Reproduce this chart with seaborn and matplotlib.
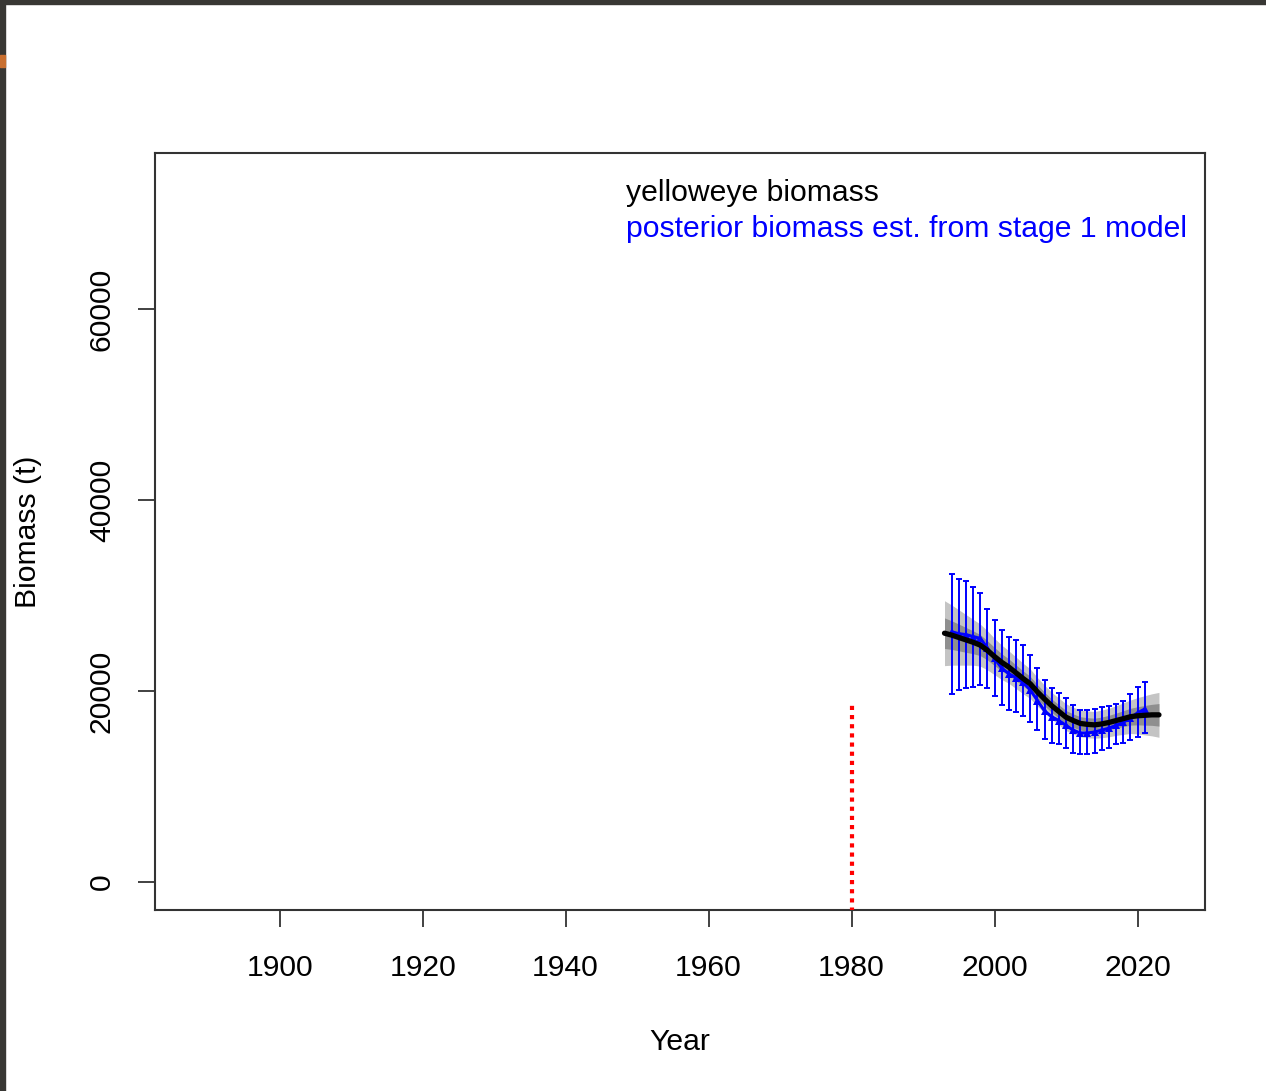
import numpy as np
import pandas as pd
import matplotlib
matplotlib.use("Agg")
import matplotlib.pyplot as plt
import seaborn as sns
from matplotlib.patches import Rectangle

# ---- data ----
line_years = list(range(1993, 2024))
line_biomass = [26050, 25850, 25600, 25350, 25100, 24800, 24250, 23600, 23000, 22500,
                21900, 21300, 20750, 19900, 19150, 18450, 17850, 17250, 16900, 16600,
                16500, 16450, 16550, 16700, 16900, 17100, 17300, 17400, 17450, 17500, 17500]
outer_half = [3400, 3150, 2900, 2650, 2400, 2200, 2050, 1900, 1800, 1700,
              1650, 1600, 1550, 1500, 1450, 1400, 1400, 1400, 1400, 1400,
              1400, 1400, 1450, 1500, 1550, 1650, 1750, 1900, 2050, 2200, 2350]
inner_half = [1600, 1500, 1400, 1300, 1200, 1100, 1000, 950, 900, 850,
              820, 800, 770, 750, 720, 700, 700, 700, 700, 700,
              700, 700, 720, 750, 780, 830, 880, 950, 1030, 1100, 1180]

post_years = list(range(1994, 2022))
post_mean = [26200, 26000, 25900, 25700, 25500, 24500, 23400, 22400, 21800, 21400,
             20900, 20100, 19000, 17900, 17300, 16900, 16400, 15900, 15600, 15600,
             15700, 15900, 16100, 16400, 16700, 17200, 17700, 18100]
post_upper = [32250, 31700, 31500, 30850, 30300, 28600, 27400, 26350, 25600, 25300,
              24800, 23750, 22400, 21100, 20300, 19800, 19250, 18550, 18000, 18000,
              18100, 18350, 18450, 18650, 18950, 19650, 20450, 20950]
post_lower = [19650, 20050, 20300, 20400, 20600, 20300, 19450, 18550, 18050, 17750,
              17400, 16800, 15900, 15000, 14600, 14400, 14050, 13550, 13400, 13400,
              13500, 13800, 14050, 14400, 14600, 14850, 15200, 15550]

vline_year = 1980
vline_top = 18500

xticks = [1900, 1920, 1940, 1960, 1980, 2000, 2020]
yticks = [0, 20000, 40000, 60000]
legend_labels = ["yelloweye biomass", "posterior biomass est. from stage 1 model"]

# ---- figure ----
W, H = 1266, 1091
FS = 21.7
sns.set_style("white")
plt.rcParams['font.family'] = ['Liberation Sans', 'DejaVu Sans']
plt.rcParams['text.color'] = 'black'
fig = plt.figure(figsize=(W / 100, H / 100), dpi=100)
ax = fig.add_axes([155 / W, 1 - 910 / H, (1205 - 155) / W, (910 - 153) / H])

df_line = pd.DataFrame({"Year": line_years, "Biomass": line_biomass})
ly = np.array(line_years)
lb = np.array(line_biomass)
oh = np.array(outer_half)
ih = np.array(inner_half)

ax.fill_between(ly, lb - oh, lb + oh, color="#c4c4c4", lw=0, zorder=1)
ax.fill_between(ly, lb - ih, lb + ih, color="#8f8f8f", lw=0, zorder=2)

ax.vlines(vline_year, -5000, vline_top, colors="red", linestyles=(0, (1, 1.2)), lw=3.0, zorder=3)

pm = np.array(post_mean)
ax.errorbar(post_years, post_mean,
            yerr=[pm - np.array(post_lower), np.array(post_upper) - pm],
            fmt="none", ecolor="blue", elinewidth=1.4, capsize=2.5, capthick=1.4, zorder=4)

df_post = pd.DataFrame({"Year": post_years, "Biomass": post_mean})
sns.lineplot(data=df_post, x="Year", y="Biomass", ax=ax, color="blue", lw=2.2,
             marker="^", markersize=6, markeredgewidth=0, zorder=5)
sns.lineplot(data=df_line, x="Year", y="Biomass", ax=ax, color="black", lw=3.8, zorder=6)

ax.set_xlim(1882.56, 2029.44)
ax.set_ylim(-2936, 76331)
ax.set_xticks(xticks)
ax.set_yticks(yticks)
ax.set_xticklabels([str(t) for t in xticks], fontsize=FS)
ax.set_yticklabels([str(t) for t in yticks], fontsize=FS, rotation=90, va="center")
ax.tick_params(axis="both", which="major", bottom=True, left=True, direction="out",
               length=12, width=1.3, color="#333333", labelcolor="black")
ax.tick_params(axis="x", pad=19.7)
ax.tick_params(axis="y", pad=16.2)
for s in ax.spines.values():
    s.set_color("#333333")
    s.set_linewidth(1.5)
    s.set_visible(True)

ax.set_xlabel("")
ax.set_ylabel("")
fig.text(680 / W, 1 - 1042 / H, "Year", fontsize=FS, color="black", ha="center", va="center")
fig.text(28 / W, 1 - 532 / H, "Biomass (t)", fontsize=FS, color="black",
         ha="center", va="center", rotation=90)

fig.text(626 / W, 1 - 193 / H, legend_labels[0], fontsize=FS, color="black", ha="left", va="center")
fig.text(626 / W, 1 - 229 / H, legend_labels[1], fontsize=FS, color="blue", ha="left", va="center")

# screenshot frame
fig.patches.append(Rectangle((0, 1 - 4 / H), 1, 4 / H, transform=fig.transFigure,
                             color="#383734", zorder=0))
fig.patches.append(Rectangle((0, 0), 5 / W, 1, transform=fig.transFigure,
                             color="#383734", zorder=0))
fig.patches.append(Rectangle((0, 1 - 67 / H), 5 / W, 12 / H, transform=fig.transFigure,
                             color="#c96f30", zorder=1))

fig.savefig("out.png", dpi=100)
